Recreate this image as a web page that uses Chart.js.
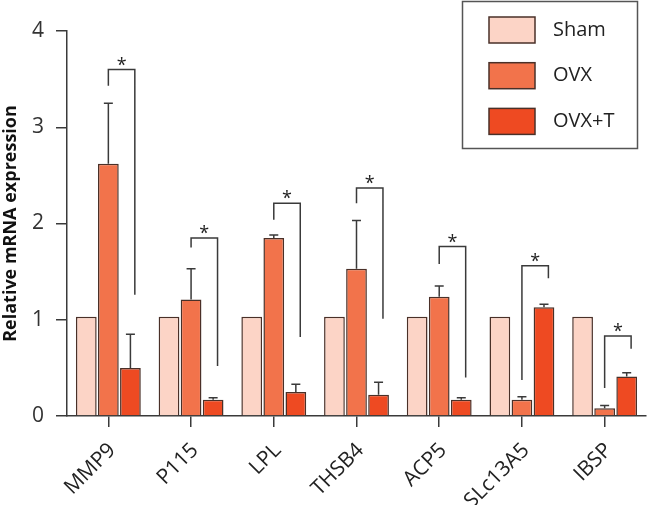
<!DOCTYPE html>
<html lang="en">
<head>
  <meta charset="UTF-8" />
  <title>Relative mRNA expression</title>
  <script src="https://cdn.jsdelivr.net/npm/chart.js"></script>
  <style>
    body { margin: 0; background: #fff; }
    #wrap { width: 648px; height: 505px; }
  </style>
</head>
<body>
<div id="wrap"><canvas id="chart" width="648" height="505"></canvas></div>
<script>
// data
const genes = ['MMP9', 'P115', 'LPL', 'THSB4', 'ACP5', 'SLc13A5', 'IBSP'];
const shamVals = [1.03, 1.03, 1.03, 1.03, 1.03, 1.03, 1.03];
const ovxVals  = [2.62, 1.21, 1.85, 1.53, 1.24, 0.17, 0.08];
const ovxtVals = [0.50, 0.17, 0.25, 0.22, 0.17, 1.13, 0.41];
const ovxErr   = [0.63, 0.32, 0.03, 0.50, 0.11, 0.03, 0.03];
const ovxtErr  = [0.35, 0.02, 0.08, 0.13, 0.02, 0.03, 0.04];
// significance brackets: top, left leg end, right leg end
const brTop   = [3.60, 1.85, 2.21, 2.37, 1.76, 1.56, 0.83];
const brLeft  = [3.43, 1.75, 2.04, 2.21, 1.58, 0.375, 0.29];
const brRight = [1.26, 0.52, 0.82, 1.01, 0.40, 1.43, 0.70];
const yTicks = [0, 1, 2, 3, 4];

const FONT = "'Open Sans', 'DejaVu Sans', sans-serif";
const INK = '#3a3a3a';
const colors = ['#fcd4c6', '#f2734b', '#ee4a22'];

const errorBars = {
  id: 'errorBars',
  afterDatasetsDraw(chart) {
    const { ctx, scales: { y } } = chart;
    ctx.save();
    ctx.strokeStyle = INK;
    ctx.lineWidth = 1.5;
    chart.data.datasets.forEach((ds, di) => {
      if (!ds.err) return;
      const meta = chart.getDatasetMeta(di);
      meta.data.forEach((bar, i) => {
        const top = y.getPixelForValue(ds.data[i] + ds.err[i]);
        ctx.beginPath();
        ctx.moveTo(bar.x, bar.y);
        ctx.lineTo(bar.x, top);
        ctx.moveTo(bar.x - 4.5, top);
        ctx.lineTo(bar.x + 4.5, top);
        ctx.stroke();
      });
    });
    ctx.restore();
  }
};

const brackets = {
  id: 'brackets',
  afterDatasetsDraw(chart) {
    const { ctx, scales: { x, y } } = chart;
    ctx.save();
    ctx.strokeStyle = INK;
    ctx.lineWidth = 1.5;
    ctx.fillStyle = '#222';
    ctx.font = '18px ' + FONT;
    ctx.textAlign = 'center';
    ctx.textBaseline = 'alphabetic';
    genes.forEach((g, i) => {
      const xl = x.getPixelForValue(i);
      const xr = x.getPixelForValue(i + 0.32);
      const yt = y.getPixelForValue(brTop[i]);
      ctx.beginPath();
      ctx.moveTo(xl, y.getPixelForValue(brLeft[i]));
      ctx.lineTo(xl, yt);
      ctx.lineTo(xr, yt);
      ctx.lineTo(xr, y.getPixelForValue(brRight[i]));
      ctx.stroke();
      ctx.fillText('*', (xl + xr) / 2, yt + 1);
    });
    ctx.restore();
  }
};

const boxLegend = {
  id: 'boxLegend',
  afterDraw(chart) {
    const ctx = chart.ctx;
    ctx.save();
    ctx.strokeStyle = '#555';
    ctx.lineWidth = 1.5;
    ctx.strokeRect(462.5, 1.5, 175, 147);
    ctx.font = '20px ' + FONT;
    ctx.textBaseline = 'middle';
    ctx.textAlign = 'left';
    chart.data.datasets.forEach((ds, i) => {
      const top = 17 + i * 45.7;
      ctx.fillStyle = ds.backgroundColor;
      ctx.fillRect(489, top, 46, 26);
      ctx.strokeStyle = '#4a3028';
      ctx.strokeRect(489, top, 46, 26);
      ctx.fillStyle = '#222';
      ctx.fillText(ds.label, 553, top + 13);
    });
    ctx.restore();
  }
};

const mkSet = (label, data, color, err) => ({
  label, data, err,
  backgroundColor: color,
  borderColor: '#4a3028',
  borderWidth: 1.5,
  categoryPercentage: 0.8,
  barPercentage: 0.94
});

new Chart(document.getElementById('chart'), {
  type: 'bar',
  data: {
    labels: genes,
    datasets: [
      mkSet('Sham', shamVals, colors[0], null),
      mkSet('OVX', ovxVals, colors[1], ovxErr),
      mkSet('OVX+T', ovxtVals, colors[2], ovxtErr)
    ]
  },
  options: {
    responsive: false,
    animation: false,
    layout: { padding: { top: 31, right: 2, left: 0, bottom: 0 } },
    plugins: {
      legend: { display: false },
      tooltip: { enabled: false }
    },
    scales: {
      x: {
        offset: true,
        grid: { display: true, drawOnChartArea: false, drawTicks: true, tickLength: 11, offset: false, color: INK, lineWidth: 1.5 },
        border: { display: true, color: INK, width: 1.5 },
        ticks: { color: '#222', font: { family: FONT, size: 21 }, maxRotation: 45, minRotation: 45, padding: 11, labelOffset: 4 },
        afterFit(scale) { scale.height = 89; }
      },
      y: {
        min: 0,
        max: 4,
        afterBuildTicks(scale) { scale.ticks = yTicks.map(v => ({ value: v })); },
        grid: { display: true, drawOnChartArea: false, drawTicks: true, tickLength: 11, color: INK, lineWidth: 1.5 },
        border: { display: true, color: INK, width: 1.5 },
        ticks: { color: '#333', font: { family: FONT, size: 21 }, padding: 12 },
        title: { display: true, text: 'Relative mRNA expression', color: '#111', font: { family: FONT, size: 18, weight: 'bold' }, padding: 0 },
        afterFit(scale) { scale.width = 67; }
      }
    }
  },
  plugins: [errorBars, brackets, boxLegend]
});
</script>
</body>
</html>
